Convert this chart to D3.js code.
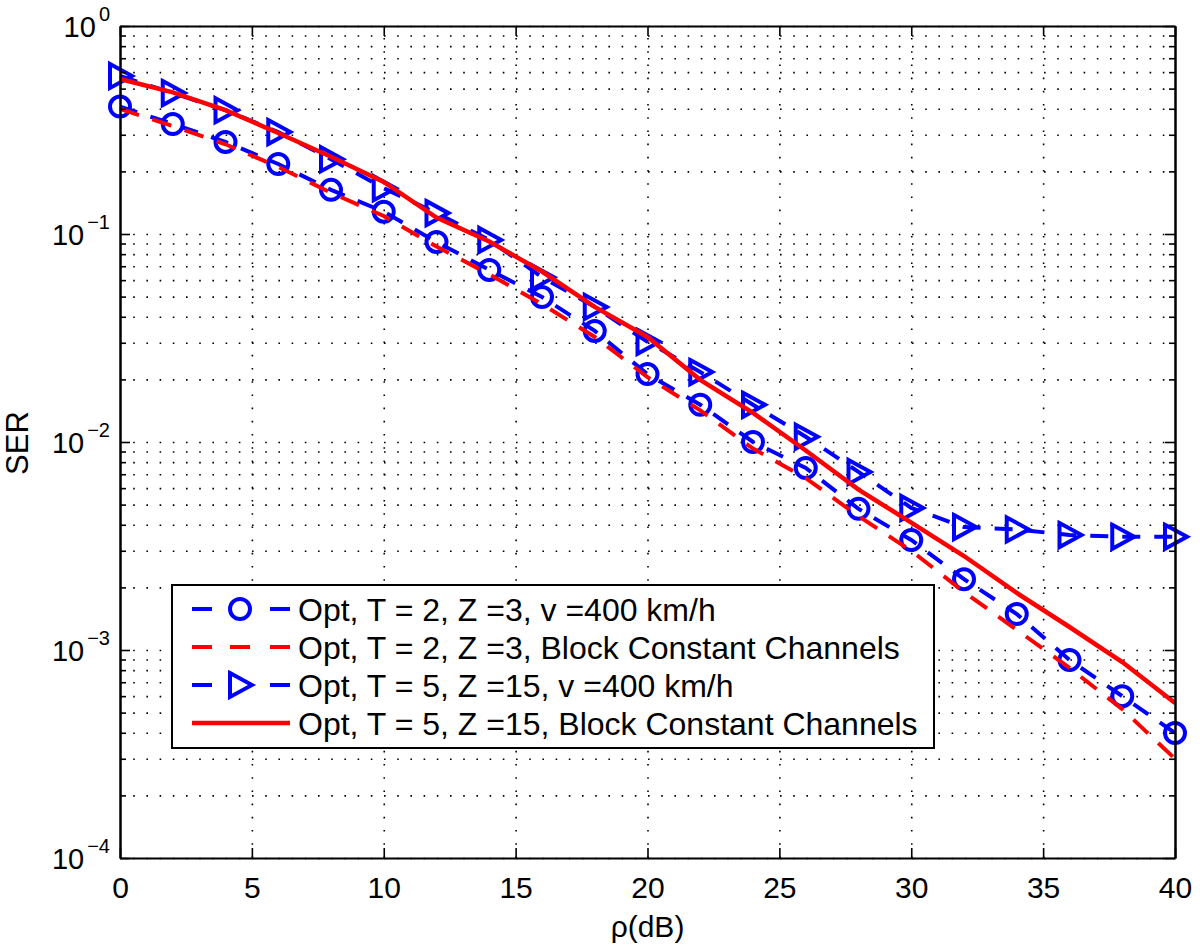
<!DOCTYPE html>
<html>
<head>
<meta charset="utf-8">
<script src="https://cdn.jsdelivr.net/npm/d3@7"></script>
<style>
  body { margin: 0; background: #fff; }
  svg { font-family: "Liberation Sans", Arial, Helvetica, sans-serif; }
</style>
</head>
<body>
<svg id="chart" width="1200" height="952"></svg>
<script>
// DATA ____________________________________________________________
const SNR_DB = [0, 2, 4, 6, 8, 10, 12, 14, 16, 18, 20, 22, 24, 26, 28, 30, 32, 34, 36, 38, 40];

// Opt, T = 2, Z = 3, v = 400 km/h (blue circles)
const SER_T2_V400 = [0.41, 0.338, 0.277, 0.217, 0.163, 0.128, 0.0916, 0.0672, 0.0498, 0.0342, 0.0212,
  0.0151, 0.0100, 0.0075, 0.00477, 0.00338, 0.00219, 0.00149, 0.000895, 0.0006, 0.000399];

// Opt, T = 2, Z = 3, block constant (red dashed)
const SER_T2_BLOCK = [0.40, 0.33, 0.27, 0.21, 0.158, 0.122, 0.087, 0.064, 0.046, 0.032, 0.0205,
  0.0142, 0.0093, 0.0067, 0.0044, 0.0030, 0.0019, 0.00125, 0.00082, 0.00052, 0.0003];

// Opt, T = 5, Z = 15, v = 400 km/h (blue triangles)
const SER_T5_V400 = [0.575, 0.476, 0.394, 0.309, 0.229, 0.166, 0.126, 0.0936, 0.062, 0.0446, 0.0303,
  0.0217, 0.0151, 0.0106, 0.00718, 0.00482, 0.0039, 0.0038, 0.00357, 0.0035, 0.0035];

// Opt, T = 5, Z = 15, block constant (red solid)
const SER_T5_BLOCK = [0.556, 0.48, 0.394, 0.306, 0.235, 0.178, 0.12, 0.092, 0.066, 0.0446, 0.032,
  0.0199, 0.0138, 0.0091, 0.0059, 0.0041, 0.00283, 0.00188, 0.00129, 0.000875, 0.000556];

const X_TICKS = [0, 5, 10, 15, 20, 25, 30, 35, 40];
const Y_EXPONENTS = [0, -1, -2, -3, -4];
const LEGEND_LABELS = [
  'Opt, T = 2, Z =3, v =400 km/h',
  'Opt, T = 2, Z =3, Block Constant Channels',
  'Opt, T = 5, Z =15, v =400 km/h',
  'Opt, T = 5, Z =15, Block Constant Channels'
];
//__________________________________________________________________

// LAYOUT
const PLOT = {left: 120, right: 1175, top: 26, bottom: 858};
const BLUE = '#0000ff';
const RED = '#ff0000';
const FONT = '"Liberation Sans", Arial, Helvetica, sans-serif';

const svg = d3.select('#chart');

const x = d3.scaleLinear().domain([0, 40]).range([PLOT.left, PLOT.right]);
const y = d3.scaleLog().domain([1e-4, 1]).range([PLOT.bottom, PLOT.top]);

const majorY = Y_EXPONENTS.map(function(e) { return Math.pow(10, e); });
const minorY = [];
Y_EXPONENTS.slice(0, -1).forEach(function(e) {
  for (let k = 2; k <= 9; k++) minorY.push(k * Math.pow(10, e - 1));
});

// GRID (dotted) ----------------------------------------------------
const gridStyle = function(g) {
  g.select('.domain').remove();
  g.selectAll('.tick line')
    .attr('stroke', '#000')
    .attr('stroke-width', 1.6)
    .attr('stroke-dasharray', '1.6,11.6');
  g.selectAll('text').remove();
};

svg.append('g')
  .attr('transform', `translate(${PLOT.left},0)`)
  .call(d3.axisLeft(y).tickValues(majorY.concat(minorY)).tickSize(-(PLOT.right - PLOT.left)))
  .call(gridStyle);

svg.append('g')
  .attr('transform', `translate(0,${PLOT.bottom})`)
  .call(d3.axisBottom(x).tickValues(X_TICKS.slice(1, -1)).tickSize(-(PLOT.bottom - PLOT.top)))
  .call(gridStyle);

// SERIES -----------------------------------------------------------
const line = d3.line()
  .x(function(d) { return x(d[0]); })
  .y(function(d) { return y(d[1]); });

const series = [
  {values: SER_T2_V400, color: BLUE, dash: '18,14', width: 4, marker: 'circle'},
  {values: SER_T2_BLOCK, color: RED, dash: '20,14', width: 4, marker: null},
  {values: SER_T5_V400, color: BLUE, dash: '18,14', width: 4, marker: 'triangle'},
  {values: SER_T5_BLOCK, color: RED, dash: null, width: 4.5, marker: null}
];

const triPath = 'M -10,-12 L 12,0 L -10,12 Z';

function drawMarker(sel, kind, color) {
  if (kind === 'circle') {
    sel.append('circle').attr('r', 10)
      .attr('fill', 'none').attr('stroke', color).attr('stroke-width', 4);
  } else if (kind === 'triangle') {
    sel.append('path').attr('d', triPath)
      .attr('fill', 'none').attr('stroke', color).attr('stroke-width', 4)
      .attr('stroke-linejoin', 'miter');
  }
}

series.forEach(function(s) {
  const pts = SNR_DB.map(function(v, i) { return [v, s.values[i]]; });
  const g = svg.append('g');
  g.append('path')
    .datum(pts)
    .attr('d', line)
    .attr('fill', 'none')
    .attr('stroke', s.color)
    .attr('stroke-width', s.width)
    .attr('stroke-dasharray', s.dash);
  if (s.marker) {
    g.selectAll('.m')
      .data(pts)
      .enter()
      .append('g')
      .attr('transform', function(d) { return `translate(${x(d[0])},${y(d[1])})`; })
      .each(function() { drawMarker(d3.select(this), s.marker, s.color); });
  }
});

// AXES (box with inward ticks) -------------------------------------
function axisStyle(g) {
  g.select('.domain').attr('stroke', '#000').attr('stroke-width', 2);
  g.selectAll('.tick line').attr('stroke', '#000').attr('stroke-width', 1.6);
}

// bottom
const xBottom = svg.append('g')
  .attr('transform', `translate(0,${PLOT.bottom})`)
  .call(d3.axisBottom(x).tickValues(X_TICKS).tickSize(-10).tickSizeOuter(0).tickPadding(19))
  .call(axisStyle);
xBottom.attr('font-size', 30).attr('font-family', FONT);
xBottom.selectAll('text').attr('fill', '#000');

// top
svg.append('g')
  .attr('transform', `translate(0,${PLOT.top})`)
  .call(d3.axisTop(x).tickValues(X_TICKS).tickSize(-10).tickSizeOuter(0).tickFormat(''))
  .call(axisStyle);

// left major + minor
const yLeft = svg.append('g')
  .attr('transform', `translate(${PLOT.left},0)`)
  .call(d3.axisLeft(y).tickValues(majorY).tickSize(-10).tickSizeOuter(0).tickPadding(10))
  .call(axisStyle);
yLeft.attr('font-size', 29).attr('font-family', FONT);
svg.append('g')
  .attr('transform', `translate(${PLOT.left},0)`)
  .call(d3.axisLeft(y).tickValues(minorY).tickSize(-6).tickSizeOuter(0).tickFormat(''))
  .call(axisStyle);

yLeft.selectAll('.tick text')
  .attr('fill', '#000')
  .attr('dy', '0.36em')
  .text('')
  .each(function(d) {
    const t = d3.select(this);
    const e = Math.round(Math.log10(d));
    t.append('tspan').text('10');
    t.append('tspan')
      .attr('font-size', 20)
      .attr('dx', 3)
      .attr('dy', '-0.8em')
      .text(e === 0 ? '0' : '\u2212' + Math.abs(e));
  });

// right major + minor
svg.append('g')
  .attr('transform', `translate(${PLOT.right},0)`)
  .call(d3.axisRight(y).tickValues(majorY).tickSize(-10).tickSizeOuter(0).tickFormat(''))
  .call(axisStyle);
svg.append('g')
  .attr('transform', `translate(${PLOT.right},0)`)
  .call(d3.axisRight(y).tickValues(minorY).tickSize(-6).tickSizeOuter(0).tickFormat(''))
  .call(axisStyle);

// AXIS LABELS -------------------------------------------------------
svg.append('text')
  .attr('x', (PLOT.left + PLOT.right) / 2)
  .attr('y', 937)
  .attr('text-anchor', 'middle')
  .attr('font-size', 30)
  .text('\u03c1(dB)');

svg.append('text')
  .attr('transform', `translate(28,443) rotate(-90)`)
  .attr('text-anchor', 'middle')
  .attr('font-size', 31)
  .text('SER');

// LEGEND ------------------------------------------------------------
const LEG = {left: 172, top: 585, right: 934, bottom: 748, rowH: 38};
const legend = svg.append('g');
legend.append('rect')
  .attr('x', LEG.left).attr('y', LEG.top)
  .attr('width', LEG.right - LEG.left).attr('height', LEG.bottom - LEG.top)
  .attr('fill', '#fff').attr('stroke', '#000').attr('stroke-width', 2);

series.forEach(function(s, i) {
  const cy = LEG.top + 24 + i * LEG.rowH;
  const row = legend.append('g');
  if (s.dash) {
    [[192, 212], [230, 250], [270, 290]].forEach(function(seg, k) {
      if (s.marker && k === 1) return;
      row.append('line')
        .attr('x1', seg[0]).attr('x2', seg[1]).attr('y1', cy).attr('y2', cy)
        .attr('stroke', s.color).attr('stroke-width', s.width);
    });
  } else {
    row.append('line')
      .attr('x1', 192).attr('x2', 290).attr('y1', cy).attr('y2', cy)
      .attr('stroke', s.color).attr('stroke-width', s.width);
  }
  if (s.marker) {
    const mg = row.append('g').attr('transform', `translate(240,${cy})`);
    drawMarker(mg, s.marker, s.color);
  }
  row.append('text')
    .attr('x', 298).attr('y', cy)
    .attr('dy', '0.36em')
    .attr('font-size', 32)
    .text(LEGEND_LABELS[i]);
});
</script>
</body>
</html>
